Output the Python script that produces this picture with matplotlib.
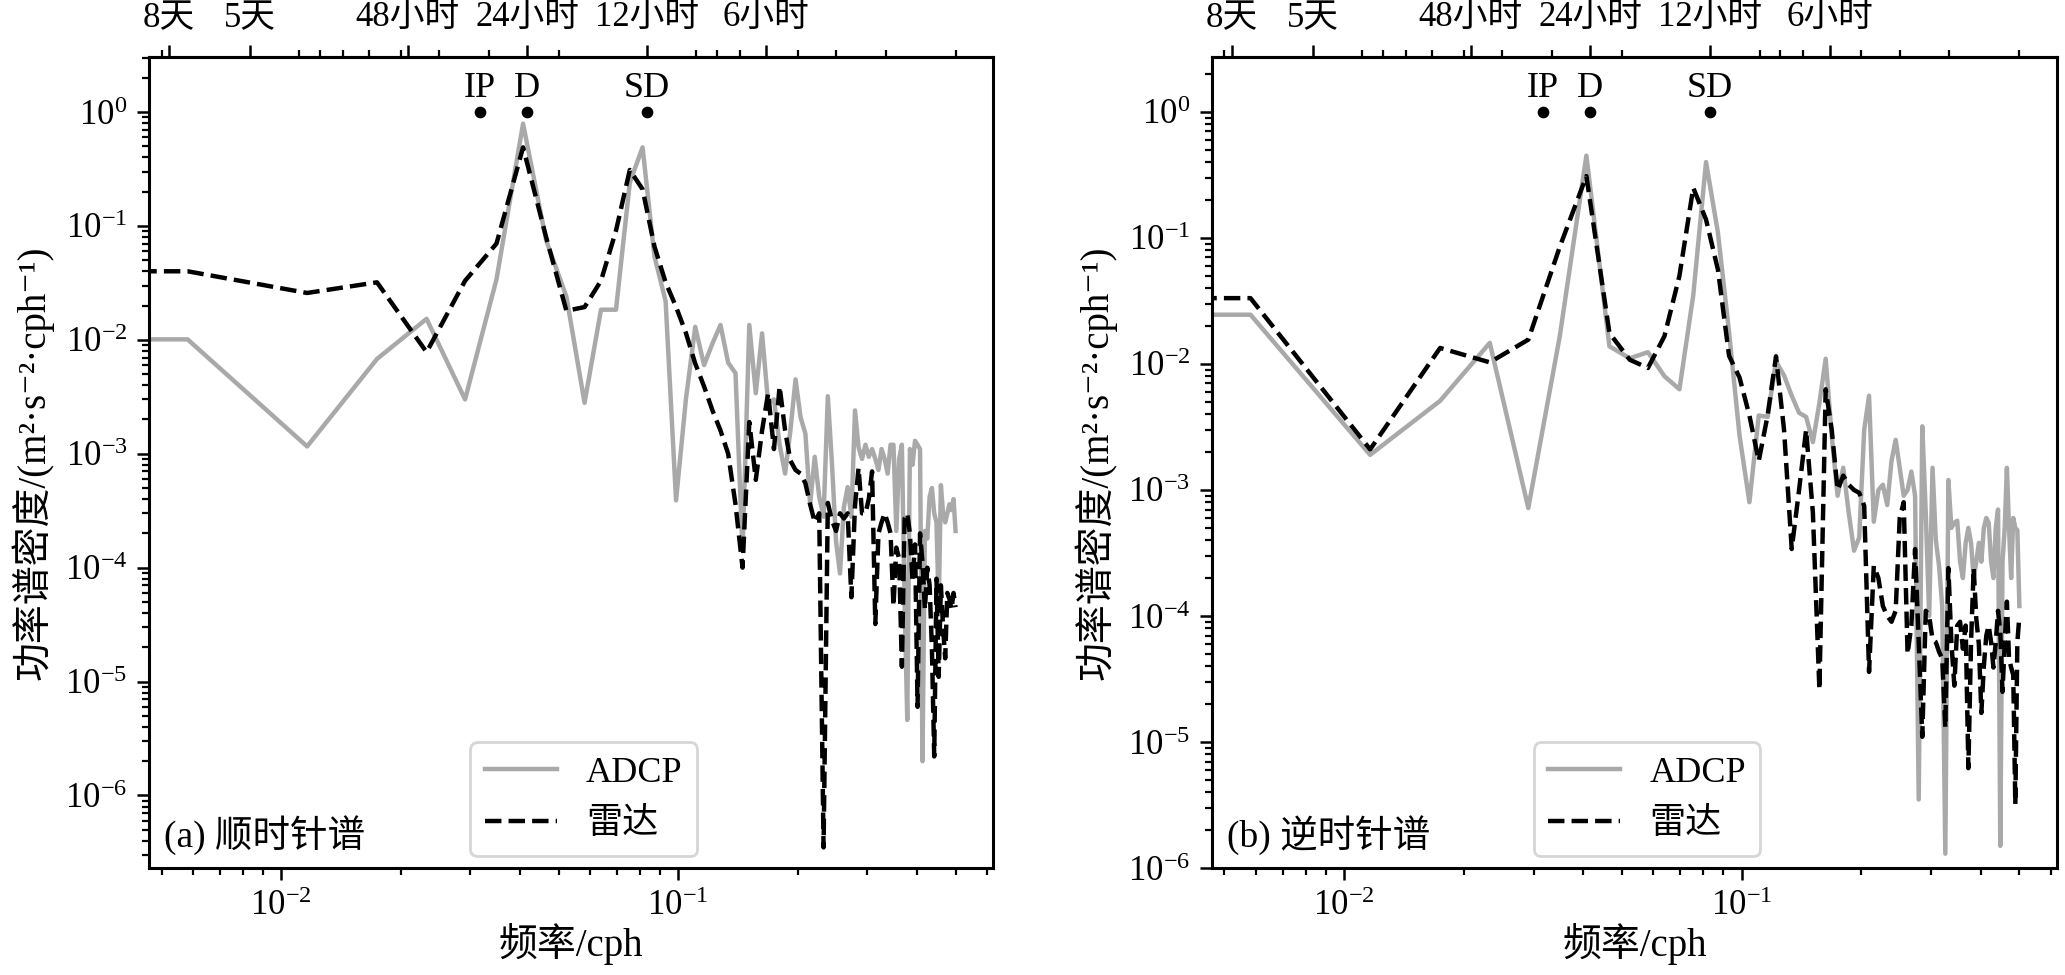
import numpy as np
import matplotlib
matplotlib.use("Agg")
import matplotlib.pyplot as plt
from matplotlib import ticker

plt.rcParams['font.family'] = ['Liberation Serif', 'Noto Sans CJK SC', 'DejaVu Sans']
plt.rcParams['mathtext.fontset'] = 'stix'

# spectral grid: 172 h record of hourly data, f = k / 172 cph (k = 0 .. 86)
n_hours = 172
freq = np.arange(0, 87) / n_hours

# (a) clockwise spectra, k = 1 .. 86
adcp_cw = [0.0101, 0.00116, 0.0068, 0.0153, 0.0030, 0.034, 0.79, 0.075, 0.024, 0.0028,
           0.0184, 0.0184, 0.24, 0.49, 0.054, 0.022, 0.00039, 0.003, 0.013, 0.006,
           0.0093, 0.0135, 0.0063, 0.0051, 0.00014, 0.0135, 0.0034, 0.0114, 0.0028, 0.003,
           0.0012, 0.00067, 0.0016, 0.0045, 0.0021, 0.0015, 0.00036, 0.00094, 0.00042, 0.00028,
           0.0032, 0.00082, 0.00017, 0.000089, 0.00034, 0.00051, 0.00028, 0.0024, 0.00114, 0.0009,
           0.0012, 0.00094, 0.0011, 0.0009, 0.00072, 0.0011, 0.0009, 0.00067, 0.0012, 0.0012,
           0.00021, 0.0009, 0.0012, 0.00005, 0.0000046, 0.0011, 0.0008, 0.0013, 0.0012, 0.0011,
           0.000002, 0.00021, 0.00018, 0.00042, 0.0005, 0.0003, 0.00025, 0.000045, 0.00053, 0.0003,
           0.00025, 0.0003, 0.00036, 0.00032, 0.0004, 0.00021]
radar_cw = [0.040, 0.0258, 0.032, 0.0078, 0.033, 0.070, 0.49, 0.08, 0.018, 0.0194,
            0.033, 0.091, 0.31, 0.21, 0.066, 0.032, 0.0195, 0.0115, 0.0062, 0.0039,
            0.0024, 0.0016, 0.001, 0.00036, 0.0001, 0.0019, 0.00059, 0.0016, 0.0034, 0.0011,
            0.0039, 0.0016, 0.00087, 0.00072, 0.00067, 0.00055, 0.00036, 0.00025, 0.0003, 3.5e-7,
            0.00037, 0.00026, 0.00021, 0.0003, 0.00027, 0.0003, 0.000055, 0.00035, 0.00075, 0.0003,
            0.0003, 0.0004, 0.0007, 0.000032, 0.0002, 0.00025, 0.0003, 0.00025, 0.0002, 0.000046,
            0.00015, 0.00012, 0.0000135, 0.00027, 0.0003, 0.0002, 0.000078, 0.00016, 0.000006, 0.0002,
            0.00011, 0.000043, 0.0001, 0.00007, 0.000019, 0.0000022, 0.00008, 0.000011, 0.00007, 0.00003,
            0.000016, 0.00006, 0.000053, 0.000043, 0.00006, 0.000045]

# (b) counter-clockwise spectra, k = 1 .. 86
adcp_ccw = [0.0246, 0.0019, 0.0051, 0.0147, 0.00072, 0.0166, 0.45, 0.0138, 0.0111, 0.0124,
            0.0080, 0.0063, 0.035, 0.40, 0.11, 0.0178, 0.0027, 0.0008, 0.0039, 0.0038,
            0.0105, 0.0081, 0.0056, 0.0041, 0.0038, 0.0024, 0.0049, 0.011, 0.0027, 0.0009,
            0.0015, 0.00066, 0.00033, 0.00042, 0.003, 0.0056, 0.00056, 0.001, 0.0011, 0.00076,
            0.0017, 0.0025, 0.0015, 0.0009, 0.001, 0.0014, 0.0009, 0.0000035, 0.0032, 0.00066,
            0.0001, 0.0015, 0.0004, 0.00025, 0.00012, 0.0000013, 0.0012, 0.0005, 0.00055, 0.00057,
            0.00027, 0.0002, 0.00038, 0.0005, 0.00038, 0.0002, 0.00027, 0.00038, 0.00027, 0.0005,
            0.0006, 0.00055, 0.00027, 0.0002, 0.0005, 0.0007, 0.0000015, 0.00027, 0.0005, 0.0015,
            0.0005, 0.0002, 0.0006, 0.0005, 0.00048, 0.00012]
radar_ccw = [0.0333, 0.0021, 0.0134, 0.0103, 0.0156, 0.085, 0.31, 0.0176, 0.0108, 0.0093,
             0.0166, 0.050, 0.25, 0.14, 0.056, 0.0116, 0.0078, 0.0039, 0.0017, 0.0039,
             0.0115, 0.003, 0.00034, 0.001, 0.003, 0.00066, 0.000026, 0.0063, 0.003, 0.001,
             0.0013, 0.0011, 0.001, 0.00095, 0.00075, 0.000036, 0.00025, 0.0002, 0.00012, 0.0001,
             0.00009, 0.00011, 0.0006, 0.0008, 0.00005, 0.000084, 0.00034, 0.000062, 0.000011, 0.00011,
             0.0001, 0.000065, 0.000062, 0.000052, 0.000046, 0.000013, 0.00024, 0.000062, 0.000028, 0.000084,
             0.00009, 0.000055, 0.000084, 0.0000062, 0.000062, 0.00024, 0.000095, 0.00006, 0.000017, 0.00004,
             0.00007, 0.000084, 0.000062, 0.000039, 0.000062, 0.00011, 0.000075, 0.000025, 0.000062, 0.00013,
             0.000046, 0.000039, 0.000034, 0.0000032, 0.000062, 0.0001]

periods = [192, 120, 48, 24, 12, 6]
period_labels = ['8天', '5天', '48小时', '24小时', '12小时', '6小时']
const_names = ['IP', 'D', 'SD']
const_freqs = [1 / 31.6, 1 / 24, 1 / 12]
series_names = ['ADCP', '雷达']
panel_titles = ['(a) 顺时针谱', '(b) 逆时针谱']


def f2p(x):
    x = np.asarray(x, dtype=float)
    with np.errstate(divide='ignore'):
        return 1.0 / x


def with_dc(vals):
    # the f = 0 bin carries the first value; log axis clips it to the left edge
    return np.concatenate(([vals[0]], vals))


def draw(ax, adcp, radar, title, ylim):
    ax.plot(freq, with_dc(adcp), color='#a9a9a9', lw=1.6, label=series_names[0])
    ax.plot(freq, with_dc(radar), color='black', lw=1.6, ls='--', label=series_names[1])
    ax.set_xscale('log')
    ax.set_yscale('log')
    ax.set_xlim(10 ** -2.3325, 10 ** -0.2065)
    ax.set_ylim(*ylim)

    ax.plot(const_freqs, [1, 1, 1], 'o', color='black', ms=3.2, zorder=5)
    for name, fc in zip(const_names, const_freqs):
        ax.annotate(name, (fc, 1), xytext=(0, 5.5), textcoords='offset points',
                    ha='center', va='baseline', fontsize=13)

    for axis in (ax.xaxis, ax.yaxis):
        axis.set_major_locator(ticker.LogLocator(base=10, numticks=20))
        axis.set_minor_locator(ticker.LogLocator(base=10, subs=np.arange(2, 10), numticks=20))
        axis.set_minor_formatter(ticker.NullFormatter())
    ax.tick_params(which='both', direction='out', top=False, right=False, labelsize=12.5)
    ax.tick_params(which='major', length=4.3, width=0.9)
    ax.tick_params(which='minor', length=2.4, width=0.8)
    for sp in ax.spines.values():
        sp.set_linewidth(1.1)

    sec = ax.secondary_xaxis('top', functions=(f2p, f2p))
    sec.set_ticks(periods, labels=period_labels)
    sec.xaxis.set_minor_formatter(ticker.NullFormatter())
    sec.tick_params(which='both', direction='out', labelsize=12.5)
    sec.tick_params(which='major', length=4.3, width=0.9)
    sec.tick_params(which='minor', length=2.4, width=0.8)
    sec.spines['top'].set_linewidth(1.1)

    ax.set_xlabel('频率/cph', fontsize=14, labelpad=0)
    ax.set_ylabel('功率谱密度/(m²·s⁻²·cph⁻¹)', fontsize=14, labelpad=4)
    ax.legend(loc='lower center', bbox_to_anchor=(0.515, 0.015), borderaxespad=0,
              fontsize=13, handlelength=2.0)
    ax.text(0.018, 0.016, title, transform=ax.transAxes, ha='left', va='bottom', fontsize=13.5)


fig = plt.figure(figsize=(10.325, 4.875), dpi=200)
ax1 = fig.add_axes([0.0722, 0.1097, 0.4087, 0.8321])
ax2 = fig.add_axes([0.5869, 0.1097, 0.4092, 0.8321])

draw(ax1, adcp_cw, radar_cw, panel_titles[0], (10 ** -6.637, 10 ** 0.4855))
draw(ax2, adcp_ccw, radar_ccw, panel_titles[1], (1e-6, 10 ** 0.438))

fig.savefig('out.png', dpi=200)
